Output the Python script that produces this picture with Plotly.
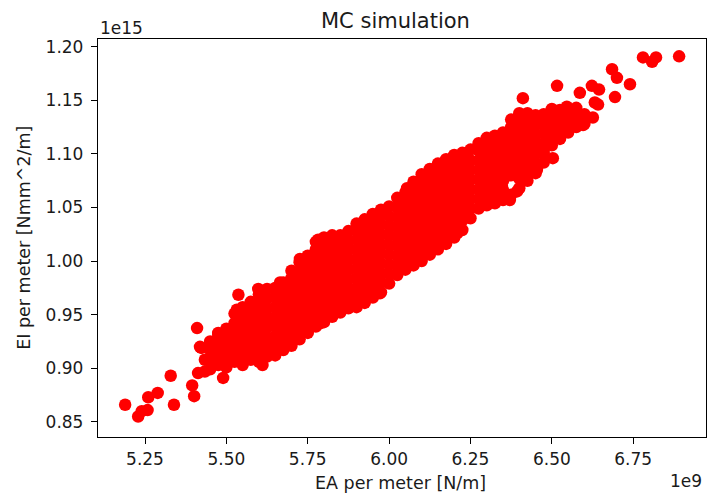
import plotly.graph_objects as go

# EA per meter in units of 1e9 N/m, EI per meter in units of 1e15 Nmm^2/m

# Dense core of the Monte Carlo cloud, grouped by EA value
core_ea = [5.450, 5.475, 5.500, 5.525, 5.550, 5.575, 5.600, 5.625, 5.650, 5.675,
           5.700, 5.725, 5.750, 5.775, 5.800, 5.825, 5.850, 5.875, 5.900, 5.925,
           5.950, 5.975, 6.000, 6.025, 6.050, 6.075, 6.100, 6.125, 6.150, 6.175,
           6.200, 6.225, 6.250, 6.275, 6.300, 6.325, 6.350, 6.375, 6.400, 6.425,
           6.450, 6.475, 6.500, 6.525, 6.550, 6.575, 6.600]
core_ei = [
    [.899, .908, .917, .925],
    [.904, .913, .922, .931],
    [.901, .910, .919, .928, .937],
    [.906, .915, .924, .933, .942, .951],
    [.903, .912, .921, .930, .939, .948, .957],
    [.908, .917, .926, .935, .944, .953, .962],
    [.906, .915, .924, .933, .942, .951, .960, .969],
    [.911, .920, .929, .938, .947, .956, .965, .974],
    [.912, .921, .930, .939, .948, .957, .966, .975],
    [.917, .926, .935, .944, .953, .962, .971, .980],
    [.921, .930, .939, .948, .957, .966, .975, .984, .991],
    [.927, .936, .945, .954, .963, .972, .981, .990, .999],
    [.933, .942, .951, .960, .969, .978, .987, .996, 1.005],
    [.939, .948, .957, .966, .975, .984, .993, 1.002, 1.011, 1.018],
    [.943, .952, .961, .970, .979, .988, .997, 1.006, 1.015, 1.022],
    [.948, .957, .966, .975, .984, .993, 1.002, 1.011, 1.020, 1.024],
    [.952, .961, .970, .979, .988, .997, 1.006, 1.015, 1.024],
    [.956, .965, .974, .983, .992, 1.001, 1.010, 1.019, 1.028],
    [.957, .966, .975, .984, .993, 1.002, 1.011, 1.020, 1.029, 1.035],
    [.961, .970, .979, .988, .997, 1.006, 1.015, 1.024, 1.033, 1.039],
    [.966, .975, .984, .993, 1.002, 1.011, 1.020, 1.029, 1.038, 1.044],
    [.971, .980, .989, .998, 1.007, 1.016, 1.025, 1.034, 1.043, 1.048],
    [.979, .988, .997, 1.006, 1.015, 1.024, 1.033, 1.042, 1.051],
    [.987, .996, 1.005, 1.014, 1.023, 1.032, 1.041, 1.050, 1.059],
    [.992, 1.001, 1.010, 1.019, 1.028, 1.037, 1.046, 1.055, 1.064],
    [.996, 1.005, 1.014, 1.023, 1.032, 1.041, 1.050, 1.059, 1.068, 1.074],
    [1.000, 1.009, 1.018, 1.027, 1.036, 1.045, 1.054, 1.063, 1.072, 1.081],
    [1.006, 1.015, 1.024, 1.033, 1.042, 1.051, 1.060, 1.069, 1.078, 1.086],
    [1.011, 1.020, 1.029, 1.038, 1.047, 1.056, 1.065, 1.074, 1.083, 1.091],
    [1.016, 1.025, 1.034, 1.043, 1.052, 1.061, 1.070, 1.079, 1.088, 1.095],
    [1.022, 1.031, 1.040, 1.049, 1.058, 1.067, 1.076, 1.085, 1.094, 1.099],
    [1.029, 1.038, 1.047, 1.056, 1.065, 1.074, 1.083, 1.092, 1.101],
    [1.040, 1.049, 1.058, 1.067, 1.076, 1.085, 1.094, 1.104],
    [1.049, 1.058, 1.067, 1.076, 1.085, 1.094, 1.103, 1.110],
    [1.052, 1.061, 1.070, 1.079, 1.088, 1.097, 1.106, 1.115],
    [1.054, 1.063, 1.072, 1.081, 1.090, 1.099, 1.108, 1.117],
    [1.057, 1.066, 1.075, 1.084, 1.093, 1.102, 1.111, 1.120],
    [1.062, 1.080, 1.089, 1.098, 1.107, 1.116, 1.125, 1.132],
    [1.068, 1.077, 1.086, 1.095, 1.104, 1.113, 1.122, 1.131, 1.138],
    [1.075, 1.084, 1.093, 1.102, 1.111, 1.120, 1.129, 1.138],
    [1.082, 1.091, 1.100, 1.109, 1.118, 1.127, 1.136],
    [1.092, 1.101, 1.110, 1.119, 1.128, 1.137],
    [1.108, 1.117, 1.126, 1.135, 1.142],
    [1.114, 1.123, 1.132, 1.141],
    [1.120, 1.129, 1.138],
    [1.125, 1.134, 1.143],
    [1.128, 1.137],
]

# Sparse samples around the edges of the cloud
edge_ea = [5.189, 5.229, 5.240, 5.258, 5.260, 5.289, 5.329, 5.339, 5.395, 5.401,
           5.410, 5.413, 5.434, 5.423, 5.434, 5.419, 5.475, 5.490, 5.475, 5.465,
           5.496, 5.537, 5.532, 5.611, 5.547, 5.537, 5.598, 5.647, 5.665, 5.726,
           5.782, 5.788, 5.890, 5.905, 5.972, 6.055, 6.209, 6.331, 6.347, 6.371,
           6.393, 6.439, 6.454, 6.473, 6.503, 6.503, 6.534, 6.562, 6.546, 6.500,
           6.411, 6.516, 6.596, 6.626, 6.642, 6.632, 6.586, 6.694, 6.645, 6.623,
           6.740, 6.700, 6.685, 6.780, 6.808, 6.820, 6.891]
edge_ei = [0.866, 0.855, 0.860, 0.861, 0.873, 0.877, 0.893, 0.866, 0.884, 0.874,
           0.9375, 0.8955, 0.897, 0.919, 0.908, 0.920, 0.933, 0.891, 0.903, 0.917,
           0.911, 0.9686, 0.9546, 0.903, 0.908, 0.939, 0.974, 0.914, 0.980, 1.002,
           1.020, 0.942, 0.959, 0.970, 0.970, 1.068, 1.026, 1.060, 1.069, 1.057,
           1.065, 1.0945, 1.085, 1.104, 1.096, 1.115, 1.125, 1.1365, 1.144, 1.141,
           1.152, 1.1635, 1.127, 1.134, 1.146, 1.148, 1.157, 1.153, 1.160, 1.1635,
           1.165, 1.171, 1.179, 1.190, 1.186, 1.190, 1.191]

x_ticks = [5.25, 5.50, 5.75, 6.00, 6.25, 6.50, 6.75]
y_ticks = [0.85, 0.90, 0.95, 1.00, 1.05, 1.10, 1.15, 1.20]

ea_vals = []
ei_vals = []
for ea, col in zip(core_ea, core_ei):
    for ei in col:
        ea_vals.append(ea)
        ei_vals.append(ei)
ea_vals += edge_ea
ei_vals += edge_ei

FONT = "DejaVu Sans"
TXT = "#1a1a1a"

fig = go.Figure(go.Scatter(
    x=ea_vals, y=ei_vals, mode="markers",
    marker=dict(color="#ff0000", size=12.5, line=dict(width=0)),
    showlegend=False, hoverinfo="skip",
))

axis_common = dict(
    showgrid=False, zeroline=False, showline=True, mirror=True,
    linecolor="#000000", linewidth=1.3,
    ticks="outside", ticklen=6, tickwidth=1.3, tickcolor="#000000",
    tickfont=dict(family=FONT, size=17, color=TXT),
    tickformat=".2f", automargin=False,
)

fig.update_layout(
    width=708, height=497,
    margin=dict(l=98, r=2, t=39, b=60),
    paper_bgcolor="white", plot_bgcolor="white",
    xaxis=dict(range=[5.1056, 6.9736], tickvals=x_ticks, **axis_common),
    yaxis=dict(range=[0.8359, 1.2072], tickvals=y_ticks, ticklabelstandoff=4, **axis_common),
    annotations=[
        dict(text="MC simulation", xref="paper", yref="paper", x=0.49, y=1.045,
             xanchor="center", yanchor="middle", showarrow=False,
             font=dict(family=FONT, size=21, color=TXT)),
        dict(text="EA per meter [N/m]", xref="paper", yref="paper", x=0.498, y=-0.115,
             xanchor="center", yanchor="middle", showarrow=False,
             font=dict(family=FONT, size=17.5, color=TXT)),
        dict(text="EI per meter [Nmm^2/m]", xref="paper", yref="paper", x=-0.122, y=0.5,
             xanchor="center", yanchor="middle", textangle=-90, showarrow=False,
             font=dict(family=FONT, size=17.5, color=TXT)),
        dict(text="1e15", xref="paper", yref="paper", x=0.0, y=1.027,
             xanchor="left", yanchor="middle", showarrow=False,
             font=dict(family=FONT, size=17, color=TXT)),
        dict(text="1e9", xref="paper", yref="paper", x=0.997, y=-0.11,
             xanchor="right", yanchor="middle", showarrow=False,
             font=dict(family=FONT, size=17, color=TXT)),
    ],
)

fig.write_html("out.html")
